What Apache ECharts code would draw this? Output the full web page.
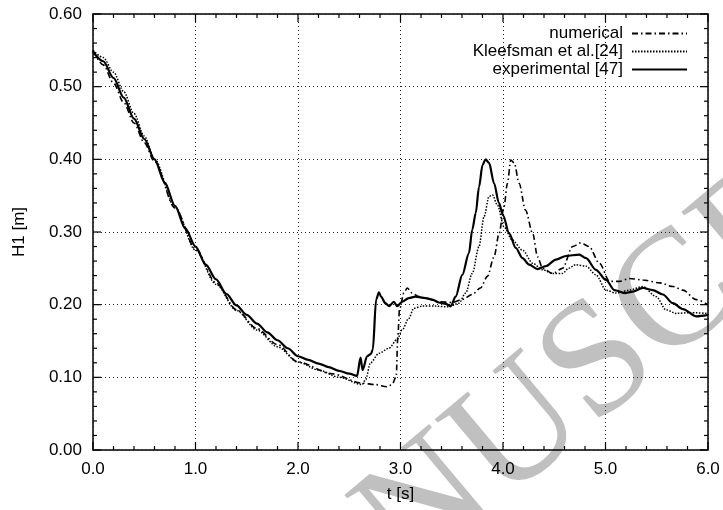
<!DOCTYPE html>
<html>
<head>
<meta charset="utf-8">
<script src="https://cdn.jsdelivr.net/npm/echarts@6/dist/echarts.min.js"></script>
<style>html,body{margin:0;padding:0;background:#fff}#c{width:723px;height:510px}</style>
</head>
<body>
<div id="c"></div>
<script>
var xTicks = [0, 1, 2, 3, 4, 5, 6];
var yTicks = [0, 0.1, 0.2, 0.3, 0.4, 0.5, 0.6];
var minorDivisions = 5;
var seriesNames = ['numerical', 'Kleefsman et al.[24]', 'experimental [47]'];

var numT = [0,0.1,0.2,0.3,0.4,0.5,0.6,0.8,1.0,1.2,1.4,1.6,1.8,2.0,2.33,2.625,2.755,2.87,2.918,2.958,2.974,2.99,3.033,3.065,3.114,3.18,3.245,3.375,3.505,3.60,3.70,3.78,3.848,3.913,3.962,4.01,4.043,4.076,4.11,4.157,4.22,4.29,4.337,4.386,4.484,4.58,4.68,4.76,4.84,4.94,5.04,5.136,5.233,5.364,5.527,5.657,5.755,5.885,6.0];
var numH = [0.55,0.53,0.505,0.478,0.45,0.423,0.397,0.333,0.277,0.23,0.193,0.167,0.145,0.121,0.105,0.092,0.09,0.087,0.09,0.101,0.156,0.193,0.216,0.223,0.216,0.211,0.209,0.204,0.203,0.207,0.214,0.223,0.239,0.266,0.298,0.335,0.367,0.399,0.395,0.367,0.33,0.298,0.266,0.25,0.243,0.25,0.28,0.285,0.28,0.257,0.232,0.232,0.236,0.234,0.230,0.225,0.22,0.207,0.20];

var kleT = [0,0.1,0.2,0.3,0.4,0.5,0.6,0.8,1.0,1.2,1.4,1.6,1.8,2.0,2.2,2.4,2.625,2.66,2.707,2.79,2.886,2.967,3.016,3.08,3.13,3.21,3.34,3.47,3.57,3.636,3.70,3.766,3.815,3.864,3.897,3.946,4.01,4.09,4.19,4.29,4.386,4.484,4.58,4.64,4.71,4.81,4.907,5.005,5.1,5.233,5.364,5.495,5.59,5.69,5.82,6.0];
var kleH = [0.55,0.54,0.52,0.493,0.463,0.432,0.40,0.334,0.275,0.228,0.192,0.165,0.142,0.121,0.11,0.1,0.09,0.097,0.12,0.133,0.14,0.152,0.165,0.181,0.195,0.198,0.198,0.197,0.202,0.216,0.243,0.28,0.321,0.349,0.351,0.337,0.307,0.289,0.275,0.257,0.248,0.243,0.243,0.25,0.255,0.253,0.241,0.22,0.216,0.22,0.225,0.211,0.193,0.188,0.189,0.188];

var expT = [0,0.1,0.2,0.3,0.4,0.5,0.6,0.7,0.8,0.9,1.0,1.1,1.2,1.3,1.4,1.5,1.6,1.7,1.8,1.9,2.0,2.1,2.2,2.3,2.4,2.5,2.576,2.61,2.63,2.674,2.71,2.73,2.762,2.79,2.81,2.853,2.89,2.935,2.967,3.016,3.08,3.147,3.245,3.31,3.375,3.44,3.49,3.538,3.603,3.668,3.70,3.734,3.766,3.80,3.83,3.864,3.913,3.96,4.0,4.06,4.125,4.19,4.255,4.337,4.418,4.516,4.614,4.744,4.81,4.907,5.005,5.087,5.185,5.266,5.364,5.46,5.56,5.657,5.755,5.885,6.0];
var expH = [0.548,0.535,0.512,0.485,0.456,0.428,0.40,0.368,0.336,0.305,0.28,0.255,0.235,0.215,0.199,0.186,0.174,0.162,0.151,0.14,0.129,0.124,0.119,0.114,0.109,0.105,0.102,0.127,0.110,0.129,0.132,0.138,0.207,0.217,0.211,0.202,0.198,0.204,0.198,0.204,0.209,0.211,0.209,0.207,0.203,0.201,0.198,0.211,0.241,0.271,0.303,0.326,0.362,0.392,0.40,0.395,0.367,0.34,0.323,0.298,0.278,0.264,0.255,0.249,0.253,0.262,0.267,0.269,0.264,0.248,0.234,0.220,0.216,0.218,0.223,0.220,0.214,0.202,0.194,0.184,0.186];

function pairs(t, h) { return t.map(function (v, i) { return [v, h[i]]; }); }

var FONT = 'Liberation Sans';
var X0 = xTicks[0], X1 = xTicks[xTicks.length - 1];
var Y0 = yTicks[0], Y1 = yTicks[yTicks.length - 1];
var MAJ = 8, MIN = 4;

// tick marks (major + minor) derived from the tick arrays; drawn through the axes' scales
function tickItems(ticks, axisFlag) {
  var out = [];
  for (var i = 0; i < ticks.length; i++) {
    out.push([ticks[i], axisFlag, MAJ]);
    if (i < ticks.length - 1) {
      var step = (ticks[i + 1] - ticks[i]) / minorDivisions;
      for (var k = 1; k < minorDivisions; k++) out.push([ticks[i] + k * step, axisFlag, MIN]);
    }
  }
  return out;
}
var tickData = tickItems(xTicks, 1).concat(tickItems(yTicks, 0));

var gridLine = { show: true, lineStyle: { color: '#222', type: [1, 3], width: 1 } };

var chart = echarts.init(document.getElementById('c'), null, { renderer: 'canvas' });
chart.setOption({
  animation: false,
  backgroundColor: '#fff',
  grid: { left: 93, right: 15, top: 14, bottom: 60, show: true, borderColor: '#000', borderWidth: 1.5 },
  xAxis: {
    type: 'value', position: 'bottom', min: X0, max: X1, interval: 1,
    axisLine: { show: false }, axisTick: { show: false },
    axisLabel: { show: true, margin: 11, color: '#000', fontFamily: FONT, fontSize: 17,
      formatter: function (v) { return v.toFixed(1); } },
    splitLine: gridLine,
    name: 't [s]', nameLocation: 'middle', nameGap: 36,
    nameTextStyle: { color: '#000', fontFamily: FONT, fontSize: 17 }
  },
  yAxis: {
    type: 'value', position: 'left', min: Y0, max: Y1, interval: 0.1,
    axisLine: { show: false }, axisTick: { show: false },
    axisLabel: { show: true, margin: 11, color: '#000', fontFamily: FONT, fontSize: 17,
      formatter: function (v) { return v.toFixed(2); } },
    splitLine: gridLine,
    name: 'H1 [m]', nameLocation: 'middle', nameGap: 65, nameRotate: 90,
    nameTextStyle: { color: '#000', fontFamily: FONT, fontSize: 17 }
  },
  legend: {
    orient: 'vertical', right: 30, top: 20, align: 'right',
    itemWidth: 55, itemHeight: 10, itemGap: 1,
    itemStyle: { color: 'transparent', borderColor: 'transparent', borderWidth: 0 },
    textStyle: { color: '#000', fontFamily: FONT, fontSize: 17, lineHeight: 17, padding: [0, 4, 0, 0] },
    data: seriesNames
  },
  graphic: [{
    type: 'text', x: -506, y: 1293, rotation: 40 * Math.PI / 180, z: -10, silent: true,
    style: { text: 'ACCEPTED MANUSCRIPT', fill: '#c0c0c0', font: '165px "Liberation Serif"',
      textAlign: 'left', textVerticalAlign: 'middle' }
  }],
  series: [
    { name: seriesNames[0], type: 'line', data: pairs(numT, numH), symbol: 'none', smooth: 0.3, smoothMonotone: 'x',
      lineStyle: { color: '#000', width: 1.6, type: [6, 3, 1.5, 3] }, itemStyle: { color: '#000' } },
    { name: seriesNames[1], type: 'line', data: pairs(kleT, kleH), symbol: 'none', smooth: 0.3, smoothMonotone: 'x',
      lineStyle: { color: '#000', width: 1.5, type: [1.5, 1.5] }, itemStyle: { color: '#000' } },
    { name: seriesNames[2], type: 'line', data: pairs(expT, expH), symbol: 'none', smooth: 0.3, smoothMonotone: 'x',
      lineStyle: { color: '#000', width: 2.2, type: 'solid' }, itemStyle: { color: '#000' } },
    { type: 'custom', silent: true, clip: false, z: 5, data: tickData,
      encode: { x: -1, y: -1 },
      renderItem: function (params, api) {
        var v = api.value(0), isX = api.value(1) === 1, len = api.value(2);
        var st = { stroke: '#000', lineWidth: 1.2 };
        var a, b;
        if (isX) {
          a = api.coord([v, Y0]); b = api.coord([v, Y1]);
          return { type: 'group', children: [
            { type: 'line', shape: { x1: a[0], y1: a[1], x2: a[0], y2: a[1] - len }, style: st },
            { type: 'line', shape: { x1: b[0], y1: b[1], x2: b[0], y2: b[1] + len }, style: st }
          ] };
        }
        a = api.coord([X0, v]); b = api.coord([X1, v]);
        return { type: 'group', children: [
          { type: 'line', shape: { x1: a[0], y1: a[1], x2: a[0] + len, y2: a[1] }, style: st },
          { type: 'line', shape: { x1: b[0], y1: b[1], x2: b[0] - len, y2: b[1] }, style: st }
        ] };
      }
    }
  ]
});
</script>
</body>
</html>
